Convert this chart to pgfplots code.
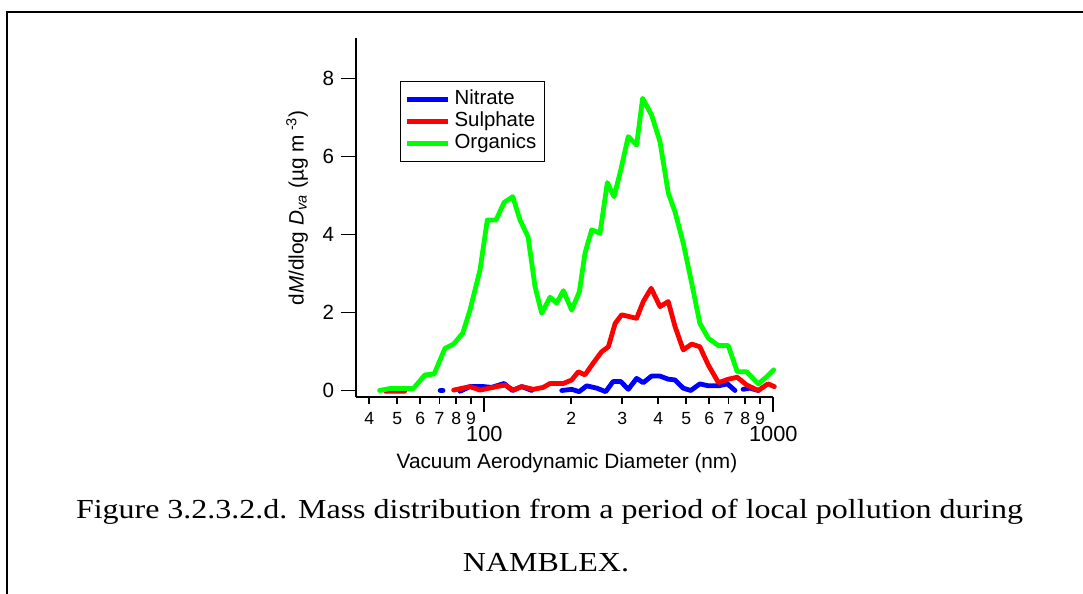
\documentclass[border=0pt]{standalone}
\usepackage{fontspec}
\setmainfont{Liberation Sans}
\newfontfamily\capfont{Liberation Serif}
\usepackage{pgfplots}
\pgfplotsset{compat=1.18}
\usepackage{pgfplotstable}

\pgfplotstableread{
D v
70.3 0.00
72.0 0.00
nan nan
82.4 -0.02
89.2 0.10
99.5 0.10
106.0 0.08
117.0 0.18
125.0 0.00
134.7 0.10
146.0 0.00
nan nan
185.3 0.00
200.6 0.03
213.0 -0.03
226.0 0.12
245.0 0.06
263.0 -0.03
279.0 0.23
296.5 0.23
315.0 0.03
336.5 0.31
354.8 0.20
379.0 0.37
405.0 0.37
433.0 0.29
457.0 0.27
488.0 0.06
518.0 0.00
557.0 0.17
596.0 0.12
646.0 0.12
694.0 0.17
737.0 0.00
nan nan
786.0 0.03
830.0 0.06
887.0 0.00
}\nitrate

\pgfplotstableread{
D v
45.5 -0.02
53.0 -0.02
nan nan
78.3 0.01
89.2 0.10
96.6 0.01
110.4 0.10
117.9 0.14
126.0 0.01
134.7 0.10
147.7 0.03
160.0 0.08
168.8 0.18
187.7 0.18
200.6 0.27
211.5 0.48
223.0 0.40
238.0 0.70
254.4 0.99
268.7 1.12
283.6 1.72
298.5 1.94
319.6 1.89
336.5 1.85
354.8 2.28
378.0 2.62
405.4 2.15
433.0 2.28
457.0 1.64
488.0 1.04
522.0 1.19
557.0 1.12
596.0 0.65
646.0 0.20
699.0 0.29
750.0 0.34
809.0 0.14
887.0 0.00
958.0 0.17
1008.0 0.10
}\sulphate

\pgfplotstableread{
D v
43.4 0.00
47.1 0.05
56.8 0.05
62.3 0.40
67.0 0.42
73.1 1.08
78.3 1.19
84.2 1.47
89.2 2.06
96.6 3.09
102.4 4.37
109.8 4.37
117.0 4.82
125.4 4.97
132.9 4.37
141.7 3.94
149.8 2.66
158.0 1.98
168.8 2.39
178.0 2.24
187.7 2.56
200.6 2.06
213.2 2.53
223.0 3.52
235.3 4.12
251.3 4.03
266.5 5.33
281.1 4.97
296.5 5.65
314.8 6.51
336.5 6.29
353.0 7.49
379.4 7.06
405.4 6.38
433.2 5.06
457.0 4.58
488.3 3.77
522.0 2.75
557.0 1.72
596.0 1.34
645.7 1.15
698.7 1.15
750.5 0.48
809.0 0.48
887.0 0.17
948.0 0.35
1003.0 0.53
}\organics

\begin{document}
\begin{tikzpicture}
\useasboundingbox (0pt,0pt) rectangle (541.5pt,297pt);
\draw[line width=0.9pt] (3.5pt,-2pt) -- (3.5pt,291pt) -- (545pt,291pt);
\begin{axis}[
  at={(178pt,98.65pt)}, anchor=south west,
  scale only axis, width=208.65pt, height=179.2pt,
  xmode=log, xmin=35.97, xmax=1000, ymin=-0.159, ymax=9.03,
  clip=false, unbounded coords=jump,
  axis x line*=bottom, axis y line*=left,
  axis line style={line width=0.9pt, -},
  tick align=outside, major tick length=7.5pt,
  tick style={line width=0.9pt, black},
  /pgf/number format/assume math mode=true,
  xtick={100,1000}, xticklabels={100,1000}, xminorticks=false,
  xticklabel style={font=\fontsize{10.9}{12}\selectfont, text height=11.2pt},
  extra x ticks={40,50,60,70,80,90,200,300,400,500,600,700,800,900},
  extra x tick labels={4,5,6,7,8,9,2,3,4,5,6,7,8,9},
  extra x tick style={major tick length=3.7pt,
     xticklabel style={font=\fontsize{8.8}{10}\selectfont, text height=6.6pt}},
  ytick={0,2,4,6,8}, yticklabels={0,2,4,6,8},
  yticklabel style={font=\fontsize{10.3}{11}\selectfont},
  xlabel={Vacuum Aerodynamic Diameter (nm)},
  xlabel style={font=\fontsize{10.4}{12}\selectfont, at={(axis description cs:0.5056,-0.1998)}, anchor=base},
  ylabel={d\textit{M}/dlog \textit{D}\textsubscript{\textit{va}} (µg m\textsuperscript{ -3})},
  ylabel style={font=\fontsize{10.4}{12}\selectfont, at={(axis description cs:-0.1256,0.527)}, anchor=base, rotate=0},
  legend style={at={(axis description cs:0.1054,0.8817)}, anchor=north west,
     draw=black, line width=0.6pt, font=\fontsize{10.2}{11}\selectfont,
     inner xsep=2pt, inner ysep=3.5pt, row sep=0pt,
     nodes={text height=7.5pt, text depth=2.2pt, inner ysep=0.65pt, inner xsep=2pt},
     cells={anchor=west}},
  legend image code/.code={\draw[#1, line width=2.5pt, line cap=butt] (0pt,0pt) -- (20.5pt,0pt);},
]
\addplot[color={rgb,255:red,0;green,0;blue,255}, line width=2.4pt, line cap=round, line join=round] table[x=D,y=v]{\nitrate};
\addplot[color={rgb,255:red,255;green,0;blue,0}, line width=2.4pt, line cap=round, line join=round] table[x=D,y=v]{\sulphate};
\addplot[color={rgb,255:red,0;green,255;blue,0}, line width=2.4pt, line cap=round, line join=round] table[x=D,y=v]{\organics};
\legend{Nitrate,Sulphate,Organics}
\end{axis}
\node[anchor=base, inner sep=0pt] at (274.75pt,37.5pt) {\scalebox{1}[0.86]{\capfont\fontsize{16}{18}\selectfont\makebox[473.5pt][s]{Figure 3.2.3.2.d. Mass distribution from a period of local pollution during}}};
\node[anchor=base, inner sep=0pt] at (273pt,11pt) {\scalebox{1}[0.86]{\capfont\fontsize{16}{18}\selectfont NAMBLEX.}};
\end{tikzpicture}
\end{document}
